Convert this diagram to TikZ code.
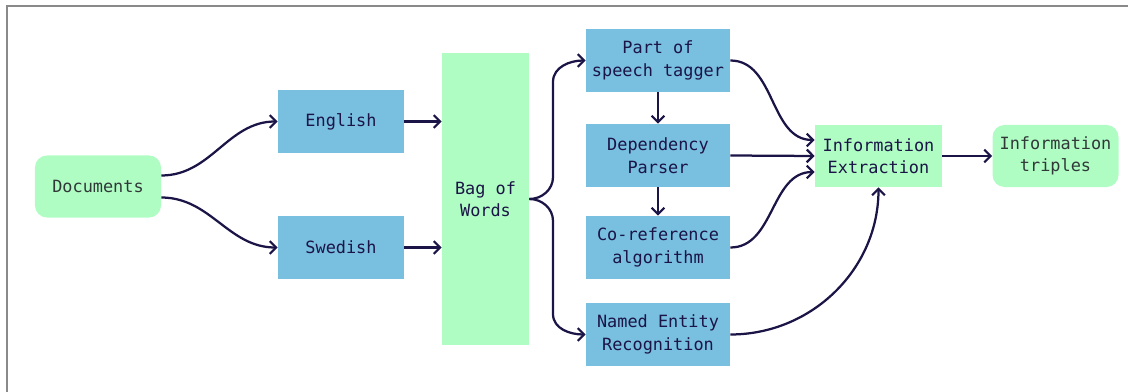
\documentclass[tikz,border=0pt]{standalone}
\usepackage{fontspec}
\setmonofont{DejaVu Sans Mono}
\usetikzlibrary{positioning}
\usetikzlibrary{arrows.meta}
\definecolor{BOX_BLUE}{HTML}{78BFE0}
\definecolor{BOX_GREEN}{HTML}{B0FDC4}
\definecolor{INK}{HTML}{1B1446}
\definecolor{INK_GRAY}{HTML}{303838}
\definecolor{FRAME}{HTML}{8A8A8A}
\tikzset{
	every node/.style = {font=\ttfamily\fontsize{12}{16}\selectfont, align=center, inner sep=0pt},
	stage/.style = {fill=BOX_BLUE, text=INK, minimum width=3.6cm, minimum height=1.575cm},
	lang/.style = {stage, minimum width=3.15cm},
	store/.style = {fill=BOX_GREEN, text=INK, minimum width=3.175cm, minimum height=1.55cm},
	terminal/.style = {fill=BOX_GREEN, text=INK_GRAY, rounded corners=0.3cm, minimum width=3.15cm, minimum height=1.55cm},
	flow/.style = {draw=INK, line width=1.6pt, -{Straight Barb[length=4.5pt,width=9pt]}}
}
\begin{document}
\begin{tikzpicture}[x=0.025cm, y=-0.025cm]
		\useasboundingbox (0,0) rectangle (1128,392);
		% frame
		\draw[FRAME, line width=1.2pt] (7,392) -- (7,6) -- (1128,6);
		% input side
		\node[terminal] (docs) at (98,186.5) {Documents};
		\node[lang] (english) at (341,121.5) {English};
		\node[lang] (swedish) at (341,247.5) {Swedish};
		\node[store, minimum width=2.175cm, minimum height=7.3cm] (bag) at (485.5,199) {Bag of\\Words};
		% nlp stages
		\node[stage] (pos) at (658,60.5) {Part of\\speech tagger};
		\node[stage] (dep) at (658,155.5) {Dependency\\Parser};
		\node[stage] (coref) at (658,247.5) {Co-reference\\algorithm};
		\node[stage] (ner) at (658,334.5) {Named Entity\\Recognition};
		% output side
		\node[store] (ie) at (878.5,156) {Information\\Extraction};
		\node[terminal] (triples) at (1055.5,156) {Information\\triples};
		% brace points
		\coordinate (brace top) at (553,82);
		\coordinate (brace mid top) at (553,177);
		\coordinate (brace mid bottom) at (553,221);
		\coordinate (brace bottom) at (553,314);
		% connectors
		\draw[flow] ([yshift=0.275cm]docs.east) to[out=0, in=180] (english.west);
		\draw[flow] ([yshift=-0.275cm]docs.east) to[out=0, in=180] (swedish.west);
		\draw[flow] (english.east) -- (english.east -| bag.west);
		\draw[flow] (swedish.east) -- (swedish.east -| bag.west);
		\draw[flow] (bag.east) to[out=0, in=-90] (brace mid top) -- (brace top) to[out=90, in=180] (pos.west);
		\draw[flow] (bag.east) to[out=0, in=90] (brace mid bottom) -- (brace bottom) to[out=-90, in=180] (ner.west);
		\draw[flow] (pos) -- (dep);
		\draw[flow] (dep) -- (coref);
		\draw[flow] (pos.east) to[out=0, in=180] ([yshift=0.4cm]ie.west);
		\draw[flow] (dep.east) -- (ie.west);
		\draw[flow] (coref.east) to[out=0, in=180] ([yshift=-0.4cm]ie.west);
		\draw[flow] (ner.east) to[out=0, in=-90] (ie.south);
		\draw[flow] (ie) -- (triples);
	\end{tikzpicture}
\end{document}
